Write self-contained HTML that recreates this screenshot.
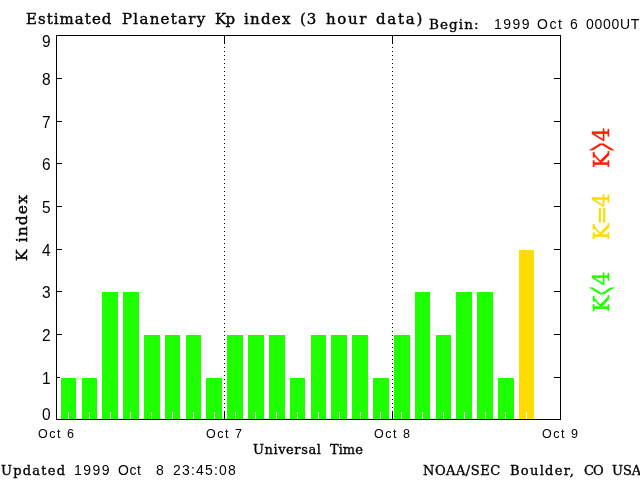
<!DOCTYPE html>
<html><head><meta charset="utf-8"><title>Estimated Planetary Kp index</title>
<style>
html,body{margin:0;padding:0;background:#fff;}
#c{position:relative;width:640px;height:480px;background:#fff;overflow:hidden;color:#000;}
#c div,#c span{position:absolute;}
#c>span{will-change:transform;}
.k{background:#000;}
.g{background:#1eff00;}
.y{background:#ffdc00;}
.w{background:#fff;width:1px;height:7px;top:412px;}
.dot{width:1px;background-image:linear-gradient(#000 1px,rgba(255,255,255,0) 1px);background-size:1px 4px;}
.s{font-family:"Liberation Sans","DejaVu Sans",sans-serif;white-space:pre;line-height:1;}
.r{font-family:"DejaVu Serif","Liberation Serif",serif;white-space:pre;line-height:1;}
.v{transform-origin:0 0;transform:rotate(-90deg);}
#c span.op{position:static;display:inline-block;transform:scale(.5,2.2);margin:0 -4.2px;-webkit-text-stroke:0;}

</style></head><body><div id="c">
<div class="g" style="left:61px;top:378px;width:15px;height:41px"></div>
<div class="g" style="left:82px;top:378px;width:15px;height:41px"></div>
<div class="g" style="left:102px;top:292px;width:16px;height:127px"></div>
<div class="g" style="left:123px;top:292px;width:16px;height:127px"></div>
<div class="g" style="left:144px;top:335px;width:16px;height:84px"></div>
<div class="g" style="left:165px;top:335px;width:15px;height:84px"></div>
<div class="g" style="left:186px;top:335px;width:15px;height:84px"></div>
<div class="g" style="left:206px;top:378px;width:16px;height:41px"></div>
<div class="g" style="left:227px;top:335px;width:16px;height:84px"></div>
<div class="g" style="left:248px;top:335px;width:16px;height:84px"></div>
<div class="g" style="left:269px;top:335px;width:16px;height:84px"></div>
<div class="g" style="left:290px;top:378px;width:15px;height:41px"></div>
<div class="g" style="left:311px;top:335px;width:15px;height:84px"></div>
<div class="g" style="left:331px;top:335px;width:16px;height:84px"></div>
<div class="g" style="left:352px;top:335px;width:16px;height:84px"></div>
<div class="g" style="left:373px;top:378px;width:16px;height:41px"></div>
<div class="g" style="left:394px;top:335px;width:16px;height:84px"></div>
<div class="g" style="left:415px;top:292px;width:15px;height:127px"></div>
<div class="g" style="left:436px;top:335px;width:15px;height:84px"></div>
<div class="g" style="left:456px;top:292px;width:16px;height:127px"></div>
<div class="g" style="left:477px;top:292px;width:16px;height:127px"></div>
<div class="g" style="left:498px;top:378px;width:16px;height:41px"></div>
<div class="y" style="left:519px;top:250px;width:15px;height:169px"></div>
<div class="w" style="left:68px"></div>
<div class="w" style="left:89px"></div>
<div class="w" style="left:110px"></div>
<div class="w" style="left:130px"></div>
<div class="w" style="left:151px"></div>
<div class="w" style="left:172px"></div>
<div class="w" style="left:193px"></div>
<div class="w" style="left:214px"></div>
<div class="w" style="left:235px"></div>
<div class="w" style="left:255px"></div>
<div class="w" style="left:276px"></div>
<div class="w" style="left:297px"></div>
<div class="w" style="left:318px"></div>
<div class="w" style="left:339px"></div>
<div class="w" style="left:360px"></div>
<div class="w" style="left:380px"></div>
<div class="w" style="left:401px"></div>
<div class="w" style="left:422px"></div>
<div class="w" style="left:443px"></div>
<div class="w" style="left:464px"></div>
<div class="w" style="left:485px"></div>
<div class="w" style="left:505px"></div>
<div class="w" style="left:526px"></div>
<div class="k" style="left:56px;top:35px;width:505px;height:1px"></div>
<div class="k" style="left:56px;top:419px;width:505px;height:1px"></div>
<div class="k" style="left:56px;top:35px;width:1px;height:385px"></div>
<div class="k" style="left:560px;top:35px;width:1px;height:385px"></div>
<div class="k" style="left:57px;top:377px;width:3px;height:1px"></div>
<div class="k" style="left:554px;top:377px;width:6px;height:1px"></div>
<div class="k" style="left:57px;top:334px;width:5px;height:1px"></div>
<div class="k" style="left:554px;top:334px;width:6px;height:1px"></div>
<div class="k" style="left:57px;top:291px;width:5px;height:1px"></div>
<div class="k" style="left:554px;top:291px;width:6px;height:1px"></div>
<div class="k" style="left:57px;top:249px;width:5px;height:1px"></div>
<div class="k" style="left:554px;top:249px;width:6px;height:1px"></div>
<div class="k" style="left:57px;top:206px;width:5px;height:1px"></div>
<div class="k" style="left:554px;top:206px;width:6px;height:1px"></div>
<div class="k" style="left:57px;top:163px;width:5px;height:1px"></div>
<div class="k" style="left:554px;top:163px;width:6px;height:1px"></div>
<div class="k" style="left:57px;top:121px;width:5px;height:1px"></div>
<div class="k" style="left:554px;top:121px;width:6px;height:1px"></div>
<div class="k" style="left:57px;top:78px;width:5px;height:1px"></div>
<div class="k" style="left:554px;top:78px;width:6px;height:1px"></div>
<div class="k" style="left:224px;top:36px;width:1px;height:8px"></div>
<div class="dot" style="left:224px;top:47px;height:364px"></div>
<div class="k" style="left:224px;top:411px;width:1px;height:8px"></div>
<div class="k" style="left:392px;top:36px;width:1px;height:8px"></div>
<div class="dot" style="left:392px;top:47px;height:364px"></div>
<div class="k" style="left:392px;top:411px;width:1px;height:8px"></div>
<span id="t1" class="r" style="left:26px;top:12px;font-size:15px;letter-spacing:1.03px;-webkit-text-stroke:0.4px #000;">Estimated</span>
<span id="t2" class="r" style="left:122px;top:12px;font-size:15px;letter-spacing:1.27px;-webkit-text-stroke:0.4px #000;">Planetary</span>
<span id="t3" class="r" style="left:215px;top:12px;font-size:15px;letter-spacing:-0.8px;-webkit-text-stroke:0.4px #000;">Kp</span>
<span id="t4" class="r" style="left:244px;top:12px;font-size:15px;letter-spacing:1.25px;-webkit-text-stroke:0.4px #000;">index</span>
<span id="t5" class="r" style="left:300px;top:12px;font-size:15px;letter-spacing:1.0px;-webkit-text-stroke:0.4px #000;">(3</span>
<span id="t6" class="r" style="left:326px;top:12px;font-size:15px;letter-spacing:1.67px;-webkit-text-stroke:0.4px #000;">hour</span>
<span id="t7" class="r" style="left:376px;top:12px;font-size:15px;letter-spacing:1.75px;-webkit-text-stroke:0.4px #000;">data)</span>
<span id="bg" class="r" style="left:429.0px;top:18.0px;font-size:13.5px;letter-spacing:1.08px;-webkit-text-stroke:0.35px #000;">Begin:</span>
<span id="d1" class="s" style="left:494px;top:17px;font-size:14px;letter-spacing:1.5px;">1999</span>
<span id="d2" class="s" style="left:537px;top:17px;font-size:14px;letter-spacing:1.5px;">Oct</span>
<span id="d3" class="s" style="left:570px;top:17px;font-size:14px;letter-spacing:1.5px;">6</span>
<span id="d4" class="s" style="left:586px;top:17px;font-size:14px;letter-spacing:0.7px;">0000UT</span>
<span id="y0" class="s" style="left:41.5px;top:406px;font-size:15.5px;letter-spacing:0px;transform:scaleY(1.05);transform-origin:0 0;">0</span>
<span id="y1" class="s" style="left:41.5px;top:370px;font-size:15.5px;letter-spacing:0px;transform:scaleY(1.05);transform-origin:0 0;">1</span>
<span id="y2" class="s" style="left:41.5px;top:327px;font-size:15.5px;letter-spacing:0px;transform:scaleY(1.05);transform-origin:0 0;">2</span>
<span id="y3" class="s" style="left:41.5px;top:284px;font-size:15.5px;letter-spacing:0px;transform:scaleY(1.05);transform-origin:0 0;">3</span>
<span id="y4" class="s" style="left:41.5px;top:242px;font-size:15.5px;letter-spacing:0px;transform:scaleY(1.05);transform-origin:0 0;">4</span>
<span id="y5" class="s" style="left:41.5px;top:199px;font-size:15.5px;letter-spacing:0px;transform:scaleY(1.05);transform-origin:0 0;">5</span>
<span id="y6" class="s" style="left:41.5px;top:156px;font-size:15.5px;letter-spacing:0px;transform:scaleY(1.05);transform-origin:0 0;">6</span>
<span id="y7" class="s" style="left:41.5px;top:114px;font-size:15.5px;letter-spacing:0px;transform:scaleY(1.05);transform-origin:0 0;">7</span>
<span id="y8" class="s" style="left:41.5px;top:71px;font-size:15.5px;letter-spacing:0px;transform:scaleY(1.05);transform-origin:0 0;">8</span>
<span id="y9" class="s" style="left:41.5px;top:33px;font-size:15.5px;letter-spacing:0px;transform:scaleY(1.05);transform-origin:0 0;">9</span>
<span id="x0" class="s" style="left:38px;top:428px;font-size:12.5px;letter-spacing:1.5px;">Oct 6</span>
<span id="x1" class="s" style="left:206px;top:428px;font-size:12.5px;letter-spacing:1.5px;">Oct 7</span>
<span id="x2" class="s" style="left:374px;top:428px;font-size:12.5px;letter-spacing:1.5px;">Oct 8</span>
<span id="x3" class="s" style="left:542px;top:428px;font-size:12.5px;letter-spacing:1.5px;">Oct 9</span>
<span id="ut1" class="r" style="left:253.0px;top:443.0px;font-size:13.0px;letter-spacing:0.57px;-webkit-text-stroke:0.35px #000;">Universal</span>
<span id="ut2" class="r" style="left:330.0px;top:443.0px;font-size:13.0px;letter-spacing:0.0px;-webkit-text-stroke:0.35px #000;">Time</span>
<span id="u1" class="r" style="left:1.0px;top:464.0px;font-size:13.0px;letter-spacing:1.25px;-webkit-text-stroke:0.35px #000;">Updated</span>
<span id="u2" class="s" style="left:74px;top:463px;font-size:14px;letter-spacing:1.5px;">1999</span>
<span id="u3" class="s" style="left:118px;top:463px;font-size:14px;letter-spacing:0.5px;">Oct</span>
<span id="u4" class="s" style="left:156px;top:463px;font-size:14px;letter-spacing:1.5px;">8</span>
<span id="u5" class="s" style="left:173px;top:463px;font-size:14px;letter-spacing:1.2px;">23:45:08</span>
<span id="n1" class="r" style="left:423.0px;top:464.0px;font-size:13.0px;letter-spacing:0.51px;-webkit-text-stroke:0.35px #000;">NOAA/SEC</span>
<span id="n2" class="r" style="left:510.0px;top:464.0px;font-size:13.0px;letter-spacing:1.3px;-webkit-text-stroke:0.35px #000;">Boulder,</span>
<span id="n3" class="r" style="left:584.0px;top:464.0px;font-size:13.0px;letter-spacing:-0.9px;-webkit-text-stroke:0.35px #000;">CO</span>
<span id="n4" class="r" style="left:612.0px;top:464.0px;font-size:13.0px;letter-spacing:0.0px;-webkit-text-stroke:0.35px #000;">USA</span>
<span id="ky" class="r v" style="left:14.5px;top:261px;font-size:15.5px;letter-spacing:1.1px;-webkit-text-stroke:0.4px #000;">K index</span>
<span id="kr" class="r v" style="left:591px;top:168px;font-size:22px;letter-spacing:0px;color:#ff1e00;-webkit-text-stroke:0.4px #ff1e00;">K<span class="op">&gt;</span>4</span>
<span id="kq" class="r v" style="left:591px;top:240px;font-size:22px;letter-spacing:-1px;color:#ffdc00;-webkit-text-stroke:0.4px #ffdc00;">K=4</span>
<span id="kl" class="r v" style="left:591px;top:312px;font-size:22px;letter-spacing:0px;color:#1eff00;-webkit-text-stroke:0.4px #1eff00;">K<span class="op">&lt;</span>4</span>
</div></body></html>
